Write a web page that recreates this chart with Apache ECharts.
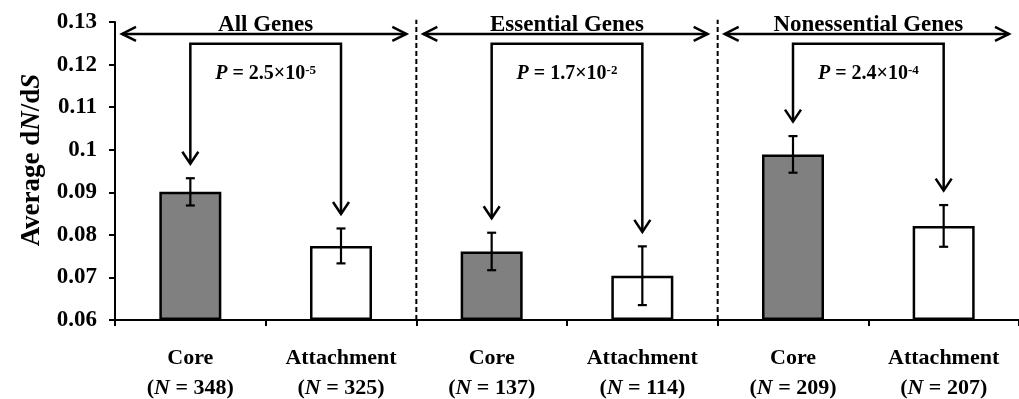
<!DOCTYPE html>
<html>
<head>
<meta charset="utf-8">
<script src="https://cdn.jsdelivr.net/npm/echarts@6/dist/echarts.min.js"></script>
<style>
  html, body { margin: 0; padding: 0; background: #ffffff; }
  #chart { width: 1019px; height: 399px; }
</style>
</head>
<body>
<div id="chart"></div>
<script>
// Average dN/dS of core vs attachment genes, overall and split by essentiality
const categories = ['Core', 'Attachment', 'Core', 'Attachment', 'Core', 'Attachment'];
const geneCounts = [348, 325, 137, 114, 209, 207];
const meanDnDs = [0.0901, 0.0774, 0.0761, 0.0704, 0.0989, 0.0821];
const stdErr = [0.0032, 0.0041, 0.0044, 0.0069, 0.0043, 0.0049];
const groupNames = ['All Genes', 'Essential Genes', 'Nonessential Genes'];
const pMantissa = ['2.5', '1.7', '2.4'];
const pExponent = ['-5', '-2', '-4'];
const yMin = 0.06, yMax = 0.13, yStep = 0.01;

const SERIF = '"Liberation Serif", "Times New Roman", "DejaVu Serif", serif';
const coreFill = '#808080';
const attachFill = '#ffffff';

const chart = echarts.init(document.getElementById('chart'), null, { renderer: 'canvas' });

// vertical levels (data units) for the annotation layer
const BRACKET_Y = 0.1249;
const SPAN_Y = 0.1272;
const TITLE_Y = 0.1292;
const P_Y = 0.1178;
const SEP_TOP = 0.1305;
const TIP_GAP = 0.0034;

function downHead(x, y) {
  return { type: 'polyline', shape: { points: [[x - 8, y - 12], [x, y], [x + 8, y - 12]] },
           style: { stroke: '#000', lineWidth: 2.5, fill: null } };
}

function renderErrorBar(params, api) {
  const idx = api.value(0);
  const hi = api.coord([idx, api.value(1) + api.value(2)]);
  const lo = api.coord([idx, api.value(1) - api.value(2)]);
  const cap = 4.5;
  const st = { stroke: '#000', lineWidth: 2.2 };
  return { type: 'group', children: [
    { type: 'line', shape: { x1: hi[0], y1: hi[1], x2: lo[0], y2: lo[1] }, style: st },
    { type: 'line', shape: { x1: hi[0] - cap, y1: hi[1], x2: hi[0] + cap, y2: hi[1] }, style: st },
    { type: 'line', shape: { x1: lo[0] - cap, y1: lo[1], x2: lo[0] + cap, y2: lo[1] }, style: st }
  ]};
}

function renderGroup(params, api) {
  const g = params.dataIndex;
  const i0 = 2 * g, i1 = 2 * g + 1;
  const catW = api.size([1, 0])[0];
  const cL = api.coord([i0, BRACKET_Y]);
  const cR = api.coord([i1, BRACKET_Y]);
  const leftB = cL[0] - catW / 2;
  const rightB = cR[0] + catW / 2;
  const midX = (leftB + rightB) / 2;
  const tipL = api.coord([i0, meanDnDs[i0] + stdErr[i0] + TIP_GAP])[1];
  const tipR = api.coord([i1, meanDnDs[i1] + stdErr[i1] + TIP_GAP])[1];
  const spanY = api.coord([i0, SPAN_Y])[1];
  const titleY = api.coord([i0, TITLE_Y])[1];
  const pY = api.coord([i0, P_Y])[1];
  const line = { stroke: '#000', lineWidth: 2.5, fill: null };
  const aL = leftB + 7, aR = rightB - 10;
  const children = [
    // group span: double-headed arrow
    { type: 'line', shape: { x1: aL, y1: spanY, x2: aR, y2: spanY }, style: line },
    { type: 'polyline', shape: { points: [[aL + 14, spanY - 7], [aL, spanY], [aL + 14, spanY + 7]] }, style: line },
    { type: 'polyline', shape: { points: [[aR - 14, spanY - 7], [aR, spanY], [aR - 14, spanY + 7]] }, style: line },
    // comparison bracket pointing down at both bars
    { type: 'polyline', shape: { points: [[cL[0], tipL], [cL[0], cL[1]], [cR[0], cR[1]], [cR[0], tipR]] }, style: line },
    downHead(cL[0], tipL),
    downHead(cR[0], tipR),
    { type: 'text', x: midX, y: titleY, style: {
        text: groupNames[g], fill: '#000', fontFamily: SERIF, fontWeight: 'bold', fontSize: 23,
        align: 'center', verticalAlign: 'middle' } },
    { type: 'text', x: midX, y: pY, style: {
        text: '{i|P} = ' + pMantissa[g] + '×10{s|' + pExponent[g] + '}',
        fill: '#000', fontFamily: SERIF, fontWeight: 'bold', fontSize: 20,
        align: 'center', verticalAlign: 'middle',
        rich: {
          i: { fontStyle: 'italic', fontWeight: 'bold', fontFamily: SERIF, fontSize: 20, fill: '#000' },
          s: { fontSize: 13, fontWeight: 'bold', fontFamily: SERIF, fill: '#000', verticalAlign: 'top' }
        } } }
  ];
  // dashed separator on the right edge of every group but the last
  if (g < groupNames.length - 1) {
    const base = api.coord([i1, yMin])[1];
    const top = api.coord([i1, SEP_TOP])[1];
    children.push({ type: 'line', shape: { x1: rightB, y1: base, x2: rightB, y2: top },
      style: { stroke: '#000', lineWidth: 2, lineDash: [5, 3] } });
  }
  return { type: 'group', children };
}

const richCat = {
  b: { fontFamily: SERIF, fontWeight: 'bold', fontSize: 22, lineHeight: 30, color: '#000' },
  i: { fontFamily: SERIF, fontWeight: 'bold', fontStyle: 'italic', fontSize: 22, lineHeight: 30, color: '#000' }
};

chart.setOption({
  backgroundColor: '#ffffff',
  animation: false,
  grid: { left: 115, right: -12, top: 22, bottom: 78 },
  xAxis: {
    type: 'category',
    data: categories,
    boundaryGap: true,
    axisLine: { lineStyle: { color: '#000', width: 2 } },
    axisTick: { show: true, interval: 0, length: 6, lineStyle: { color: '#000', width: 2 } },
    axisLabel: {
      interval: 0, margin: 23, color: '#000',
      formatter: (v, idx) => '{b|' + v + '}\n{b|(}{i|N}{b| = ' + geneCounts[idx] + ')}',
      rich: richCat
    },
    splitLine: { show: false }
  },
  yAxis: {
    type: 'value',
    min: yMin, max: yMax, interval: yStep,
    startValue: yMin,
    name: 'Average d{i|N}/d{i|S}',
    nameLocation: 'middle',
    nameRotate: 90,
    nameGap: 66,
    nameTextStyle: {
      fontFamily: SERIF, fontWeight: 'bold', fontSize: 27, color: '#000',
      padding: [0, 0, 0, 22],
      rich: { i: { fontFamily: SERIF, fontWeight: 'bold', fontStyle: 'italic', fontSize: 27, color: '#000' } }
    },
    axisLine: { show: true, lineStyle: { color: '#000', width: 2 } },
    axisTick: { show: true, length: 6, lineStyle: { color: '#000', width: 2 } },
    axisLabel: {
      margin: 18, color: '#000', fontFamily: SERIF, fontWeight: 'bold', fontSize: 23,
      formatter: v => String(+v.toFixed(2))
    },
    splitLine: { show: false }
  },
  series: [
    {
      type: 'bar',
      barWidth: 62,
      data: meanDnDs.map((v, i) => ({
        value: v,
        itemStyle: { color: i % 2 === 0 ? coreFill : attachFill }
      })),
      itemStyle: { borderColor: '#000', borderWidth: 2.5 },
      z: 2
    },
    {
      type: 'custom',
      renderItem: renderErrorBar,
      data: meanDnDs.map((v, i) => [i, v, stdErr[i]]),
      encode: { x: 0, y: 1 },
      z: 3
    },
    {
      type: 'custom',
      renderItem: renderGroup,
      data: groupNames.map((n, g) => [2 * g, BRACKET_Y]),
      encode: { x: 0, y: 1 },
      clip: false,
      z: 4
    }
  ]
});
</script>
</body>
</html>
